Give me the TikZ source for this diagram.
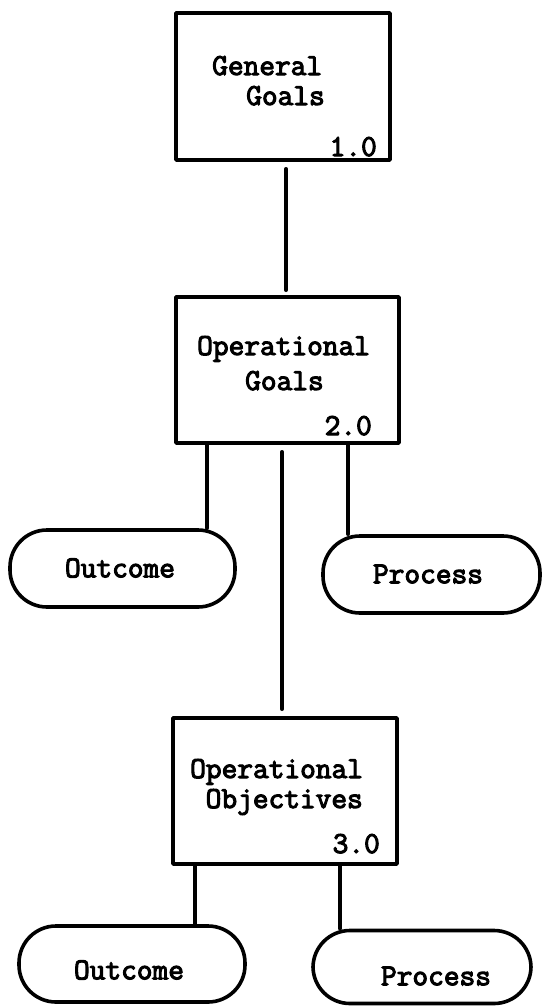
\documentclass[tikz,border=0pt]{standalone}
\usepackage{fontspec}
\newfontfamily\typewriter{Latin Modern Mono}[FakeBold=3.5]
\begin{document}
\begin{tikzpicture}[x=1pt,y=-1pt,
  ink/.style={line width=3.6pt,line join=round,line cap=round},
  boxnode/.style={ink,draw,rectangle,inner sep=0pt},
  pillnode/.style={ink,draw,rectangle,inner sep=0pt,rounded corners=37pt},
  tw/.style={font=\typewriter\fontsize{30.5}{34}\selectfont,inner sep=0pt},
  link/.style={ink}]
\useasboundingbox (0,0) rectangle (542,1007);

% hierarchy boxes
\node[boxnode,minimum width=214pt,minimum height=147pt] (b1) at (283,86.5) {};
\node[boxnode,minimum width=223pt,minimum height=146pt] (b2) at (287.5,370) {};
\node[boxnode,minimum width=224pt,minimum height=146pt] (b3) at (285,791) {};

% box titles and numbers
\node[tw,anchor=base west] (b1t1) at (212,75) {General};
\node[tw,anchor=base east] (b1t2) at (325,105) {Goals};
\node[tw,anchor=base east] (b1n) at (377,156) {1.0};

\node[tw,anchor=base west] (b2t1) at (197,355) {Operational};
\node[tw,anchor=base west] (b2t2) at (245,390) {Goals};
\node[tw,anchor=base east] (b2n) at (372,435) {2.0};

\node[tw,anchor=base west] (b3t1) at (190,778) {Operational};
\node[tw,anchor=base east] (b3t2) at (363,808) {Objectives};
\node[tw,anchor=base east] (b3n) at (380,853) {3.0};

% outcome / process pills
\node[pillnode,minimum width=225pt,minimum height=77pt] (o1) at (122.5,568.5) {};
\node[pillnode,minimum width=217pt,minimum height=77pt] (p1) at (431.5,574.5) {};
\node[pillnode,minimum width=226pt,minimum height=76pt] (o2) at (132,964) {};
\node[pillnode,minimum width=218pt,minimum height=73pt] (p2) at (422,967) {};

\node[tw] (o1t) at (120,568) {Outcome};
\node[tw] (p1t) at (428,574) {Process};
\node[tw] (o2t) at (129,970) {Outcome};
\node[tw] (p2t) at (436,976) {Process};

% connector positions
\coordinate (xa) at (286,0);
\coordinate (xb) at (207,0);
\coordinate (xc) at (282,0);
\coordinate (xd) at (348,0);
\coordinate (xe) at (195,0);
\coordinate (xf) at (340,0);

\draw[link,shorten <=7pt,shorten >=5pt] (b1.south -| xa) -- (b2.north -| xa);
\draw[link] (b2.south -| xb) -- (o1.north -| xb);
\draw[link,shorten <=7pt,shorten >=7pt] (b2.south -| xc) -- (b3.north -| xc);
\draw[link] (b2.south -| xd) -- (p1.north -| xd);
\draw[link] (b3.south -| xe) -- (o2.north -| xe);
\draw[link] (b3.south -| xf) -- (p2.north -| xf);
\end{tikzpicture}
\end{document}
